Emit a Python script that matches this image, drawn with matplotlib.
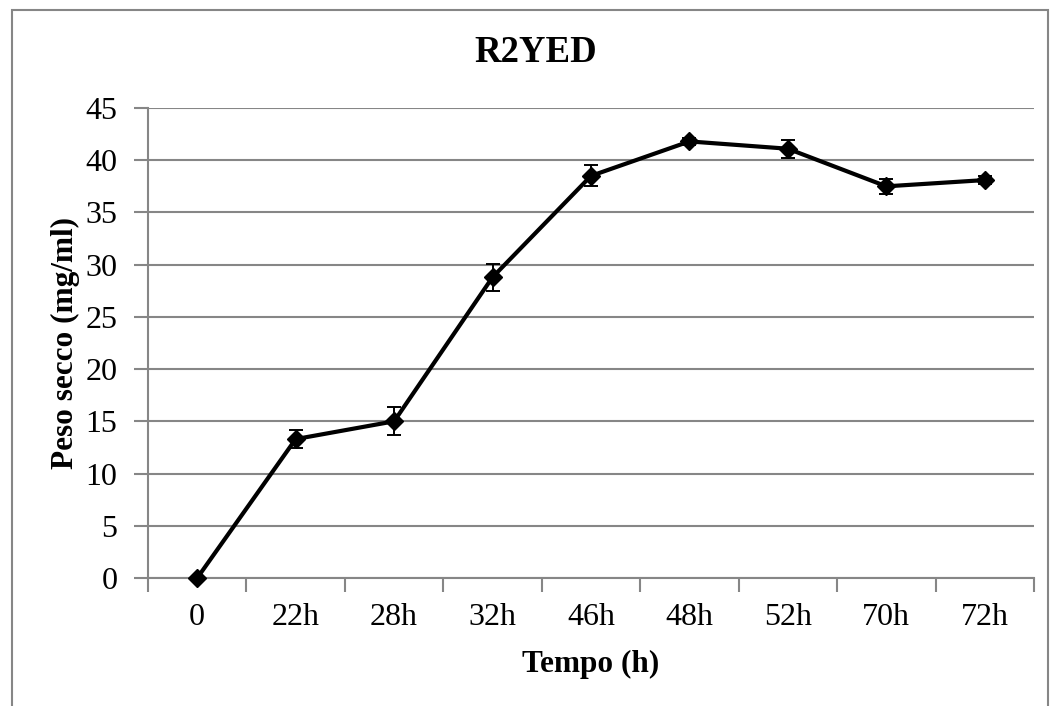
import numpy as np
import matplotlib.pyplot as plt
from matplotlib.patches import Rectangle

plt.rcParams['font.family'] = ['Liberation Serif', 'DejaVu Serif']

# --- data ---
tempo = ['0', '22h', '28h', '32h', '46h', '48h', '52h', '70h', '72h']
peso = [0.0, 13.3, 15.0, 28.8, 38.5, 41.8, 41.1, 37.5, 38.1]
errore = [0.0, 0.9, 1.35, 1.3, 1.0, 0.3, 0.85, 0.7, 0.4]

grey = '#868686'

fig = plt.figure(figsize=(10.6, 7.06), dpi=100)
ax = fig.add_axes([148/1060, 1 - 578/706, (1034 - 148)/1060, (578 - 108)/706])

x = np.arange(len(tempo))
cont = ax.errorbar(x, peso, yerr=errore, color='black', lw=3, marker='D', ms=9,
                   ecolor='black', elinewidth=1.4, capsize=5, capthick=1.4, zorder=3)
# keep the first diamond whole, as in Excel
for art in cont.lines[0:1]:
    art.set_clip_on(False)

ax.set_xlim(-0.5, len(tempo) - 0.5)
ax.set_ylim(0, 45)
ax.set_yticks(np.arange(0, 46, 5))
ax.yaxis.grid(True, color=grey, lw=1.5)
ax.set_axisbelow(True)

# category boundaries as ticks, labels in the middle
ax.set_xticks(np.arange(-0.5, len(tempo), 1.0))
ax.set_xticklabels([])
ax.set_xticks(x, minor=True)
ax.set_xticklabels(tempo, minor=True)
ax.tick_params(axis='x', which='major', length=10, width=1.5, color=grey)
ax.tick_params(axis='x', which='minor', length=0, pad=18, labelsize=23)
ax.tick_params(axis='y', length=10, width=1.5, color=grey, labelsize=23, pad=12)

for s in ['top', 'right']:
    ax.spines[s].set_visible(False)
for s in ['left', 'bottom']:
    ax.spines[s].set_color(grey)
    ax.spines[s].set_linewidth(1.5)

ax.set_xlabel('Tempo (h)', fontsize=22.5, fontweight='bold', labelpad=13)
ax.set_ylabel('Peso secco (mg/ml)', fontsize=22.5, fontweight='bold', labelpad=4)
fig.text(536/1060, 1 - 52/706, 'R2YED', ha='center', va='center', fontsize=26.5, fontweight='bold')

# chart frame
fig.patches.append(Rectangle((12/1060, -0.05), 1036/1060, 1.05 - 10/706,
                             transform=fig.transFigure, fill=False,
                             edgecolor=grey, lw=1.5))

fig.savefig('out.png', dpi=100)
